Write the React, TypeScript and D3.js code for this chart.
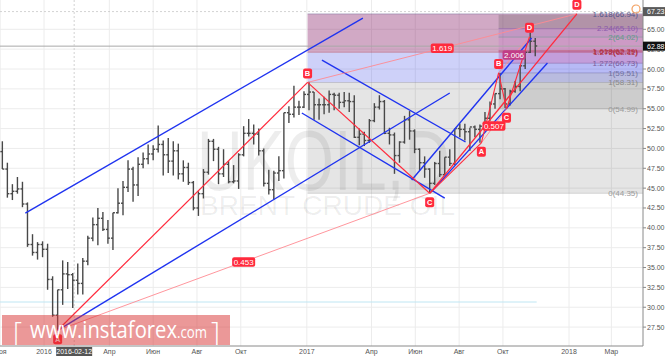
import React from "react";
import * as d3 from "d3";

// ---------- price data (weekly OHLC, Brent) ----------
const weeks = [
  "2015-11-02","2015-11-09","2015-11-16","2015-11-23","2015-11-30","2015-12-07","2015-12-14","2015-12-21","2015-12-28",
  "2016-01-04","2016-01-11","2016-01-18","2016-01-25","2016-02-01","2016-02-08","2016-02-15","2016-02-22","2016-02-29",
  "2016-03-07","2016-03-14","2016-03-21","2016-03-28","2016-04-04","2016-04-11","2016-04-18","2016-04-25","2016-05-02",
  "2016-05-09","2016-05-16","2016-05-23","2016-05-30","2016-06-06","2016-06-13","2016-06-20","2016-06-27","2016-07-04",
  "2016-07-11","2016-07-18","2016-07-25","2016-08-01","2016-08-08","2016-08-15","2016-08-22","2016-08-29","2016-09-05",
  "2016-09-12","2016-09-19","2016-09-26","2016-10-03","2016-10-10","2016-10-17","2016-10-24","2016-10-31","2016-11-07",
  "2016-11-14","2016-11-21","2016-11-28","2016-12-05","2016-12-12","2016-12-19","2016-12-26",
  "2017-01-02","2017-01-09","2017-01-16","2017-01-23","2017-01-30","2017-02-06","2017-02-13","2017-02-20","2017-02-27",
  "2017-03-06","2017-03-13","2017-03-20","2017-03-27","2017-04-03","2017-04-10","2017-04-17","2017-04-24","2017-05-01",
  "2017-05-08","2017-05-15","2017-05-22","2017-05-29","2017-06-05","2017-06-12","2017-06-19","2017-06-26","2017-07-03",
  "2017-07-10","2017-07-17","2017-07-24","2017-07-31","2017-08-07","2017-08-14","2017-08-21","2017-08-28","2017-09-04",
  "2017-09-11","2017-09-18","2017-09-25","2017-10-02","2017-10-09","2017-10-16","2017-10-23","2017-10-30","2017-11-06",
  "2017-11-13",
];
const opens = [
  49.6,47.4,44.3,44.6,44.9,43.0,37.9,36.9,37.9,
  37.3,33.5,29.0,32.2,34.2,34.1,33.4,33.0,35.8,
  38.7,40.4,41.2,39.8,38.7,41.9,43.1,45.1,47.4,
  45.4,48.0,48.7,49.3,49.9,50.5,49.2,48.4,49.7,
  46.8,47.6,45.7,42.5,44.3,47.0,50.9,49.9,46.8,
  48.0,45.8,45.9,49.2,51.9,51.9,51.8,49.7,45.6,
  44.8,46.9,47.2,54.5,54.3,55.2,55.2,
  56.8,57.1,55.5,55.5,55.5,56.8,56.7,55.8,56.0,
  55.9,51.4,51.8,51.0,53.5,55.2,55.9,51.9,51.7,
  49.1,50.8,53.6,52.2,49.9,48.2,47.4,45.6,48.1,
  46.7,48.9,48.1,52.5,52.4,52.1,52.7,52.4,52.8,
  53.8,55.6,56.9,57.5,55.6,57.2,57.8,60.4,62.1,
  63.5,
];
const highs = [
  50.9,48.2,45.5,46.4,45.8,43.2,39.2,38.2,38.3,
  38.0,33.9,32.2,35.9,35.7,34.3,35.5,36.2,39.0,
  41.3,42.5,42.0,41.0,41.9,45.0,45.9,48.5,47.7,
  48.9,49.5,50.5,50.4,52.9,51.0,51.3,50.9,50.6,
  48.5,48.2,45.9,44.6,47.4,51.2,51.2,50.2,49.9,
  48.4,47.9,49.4,52.8,53.7,53.0,52.5,50.0,47.3,
  47.2,49.0,54.5,55.3,57.9,56.0,57.2,
  58.4,57.1,56.3,56.5,57.3,57.0,57.0,57.1,57.0,
  56.7,52.5,52.1,53.7,55.7,56.7,56.1,52.6,52.0,
  50.9,54.1,54.7,52.4,50.0,49.0,47.5,48.3,49.7,
  48.9,49.9,52.5,53.1,53.1,52.6,52.9,53.0,54.6,
  55.9,56.9,59.5,57.6,57.4,58.5,60.5,62.2,64.6,
  63.9,
];
const lows = [
  47.4,43.8,43.5,44.3,42.6,37.6,36.5,36.0,36.3,
  32.2,28.8,27.1,30.3,32.3,29.9,31.6,31.6,35.3,
  38.3,37.8,39.6,38.0,37.2,41.8,41.6,44.5,43.3,
  44.0,47.5,48.0,48.5,49.5,46.6,46.9,46.6,46.1,
  45.8,45.4,42.2,41.5,43.7,46.7,48.4,45.5,46.4,
  45.6,45.6,44.9,49.0,51.5,50.5,49.1,45.2,44.2,
  43.6,45.9,46.2,53.2,53.9,54.2,55.1,
  54.8,53.6,53.6,54.3,54.5,54.8,55.0,55.2,54.6,
  51.3,50.4,50.3,50.7,53.3,54.9,51.8,50.5,46.8,
  48.2,50.6,51.1,49.4,47.2,46.3,44.4,45.4,46.4,
  46.6,47.8,47.9,51.4,51.0,49.7,51.4,50.7,52.6,
  53.5,55.0,56.2,55.1,55.4,57.0,57.2,60.0,62.0,
  61.6,
];
const closes = [
  47.4,44.3,44.6,44.9,43.0,37.9,36.9,37.9,37.3,
  33.5,29.0,32.2,34.2,34.1,33.4,33.0,35.8,38.7,
  40.4,41.2,39.8,38.7,41.9,43.1,45.1,47.4,45.4,
  48.0,48.7,49.3,49.9,50.5,49.2,48.4,49.7,46.8,
  47.6,45.7,42.5,44.3,47.0,50.9,49.9,46.8,48.0,
  45.8,45.9,49.2,51.9,51.9,51.8,49.7,45.6,44.8,
  46.9,47.2,54.5,54.3,55.2,55.2,56.8,
  57.1,55.5,55.5,55.5,56.8,56.7,55.8,56.0,55.9,
  51.4,51.8,51.0,53.5,55.2,55.9,51.9,51.7,49.1,
  50.8,53.6,52.2,49.9,48.2,47.4,45.6,48.1,46.7,
  48.9,48.1,52.5,52.4,52.1,52.7,52.4,52.8,53.8,
  55.6,56.9,57.5,55.6,57.2,57.8,60.4,62.1,63.5,
  62.9,
];

// ---------- axes ----------
const yTicks = [27.5, 30, 32.5, 35, 37.5, 40, 42.5, 45, 47.5, 50, 52.5, 55, 57.5, 60, 62.5, 65];
const xTickDates = ["2015-11-01","2016-01-01","2016-04-01","2016-06-01","2016-08-01","2016-10-01","2017-01-01","2017-04-01","2017-06-01","2017-08-01","2017-10-01","2018-01-01","2018-03-01"];
const xTickLabels = ["Ноя","2016","Апр","Июн","Авг","Окт","2017","Апр","Июн","Авг","Окт","2018","Мар"];
const crossDate = "2016-02-12";
const crossPrice = 67.23;
const lastPrice = 62.88;
const cyanLevel = 30.66;
const lastDate = "2017-11-17";

// ---------- patterns ----------
const bigNames = ["A", "B", "C", "D"];
const bigDates = ["2016-01-20", "2017-01-02", "2017-06-21", "2018-01-12"];
const bigPrices = [27.1, 58.31, 44.35, 66.95];
const smallNames = ["A", "B", "C", "D"];
const smallDates = ["2017-09-01", "2017-09-25", "2017-10-06", "2017-11-07"];
const smallPrices = [50.7, 59.51, 54.99, 64.06];

const bigFibLevels = ["0", "1", "1.272", "1.618"];
const bigFibValues = [44.35, 58.31, 62.11, 66.94];
const smallFibLevels = ["0", "1", "1.272", "1.618", "2", "2.24", "2.618"];
const smallFibValues = [54.99, 59.51, 60.73, 62.29, 64.02, 65.10, 66.82];

const blueLines: [string, number, string, number][] = [
  ["2015-12-06", 41.86, "2017-03-20", 66.42],
  ["2016-01-20", 27.1, "2017-07-19", 56.98],
  ["2017-01-22", 61.13, "2017-08-10", 50.81],
  ["2016-12-25", 54.46, "2017-07-12", 43.75],
  ["2017-05-27", 46.02, "2017-11-10", 63.9],
  ["2017-06-23", 44.5, "2017-12-02", 60.76],
];

const ratioBig = ["0.453", "1.619"];
const ratioSmall = ["0.507", "2.006"];

// ---------- helpers ----------
const pd = (s: string) => {
  const [Y, M, D] = s.split("-").map(Number);
  return new Date(Y, M - 1, D);
};
const addDays = (s: string, n: number) => {
  const d = pd(s);
  d.setDate(d.getDate() + n);
  return d;
};

const W = 665;
const H = 356;
const RIGHT = 643;
const BOTTOM = 346;

const x = d3.scaleTime().domain([pd("2016-01-01"), pd("2018-01-01")]).range([44, 569]);
const y = d3.scaleLinear().domain([27.5, 65]).range([327.1, 29.3]);

const RED = "#ff2a3c";
const PINK = "#ff8a92";
const BLUE = "#1f33f0";
const FONT = "'Liberation Sans', Arial, sans-serif";

function PointLabel({ cx, cy, text, below, fill = RED }: any) {
  const ly = below ? cy + 9 : cy - 9;
  return (
    <g>
      <rect x={cx - 4.5} y={ly - 5} width={9} height={10} rx={2} fill={fill} />
      <text x={cx} y={ly + 2.6} fontSize={7.5} fontFamily={FONT} fontWeight="bold" fill="#fff" textAnchor="middle">
        {text}
      </text>
    </g>
  );
}

function RatioLabel({ cx, cy, text, fill = RED }: any) {
  return (
    <g>
      <rect x={cx - 11.5} y={cy - 4.5} width={23} height={9.5} rx={2} fill={fill} />
      <text x={cx} y={cy + 2.8} fontSize={8} fontFamily={FONT} fill="#fff" textAnchor="middle">
        {text}
      </text>
    </g>
  );
}

export default function App() {
  const bigPts = bigDates.map((d, i) => [x(pd(d)), y(bigPrices[i])] as [number, number]);
  const smPts = smallDates.map((d, i) => [x(pd(d)), y(smallPrices[i])] as [number, number]);
  const bigStart = x(pd(bigDates[1]));
  const smStart = x(pd(smallDates[1]));

  const bigRectFills = ["rgba(0,0,0,0.10)", "rgba(60,70,230,0.25)", "rgba(140,40,110,0.40)"];
  const smallRectFills = [
    "rgba(0,0,0,0.10)",
    "rgba(60,70,230,0.16)",
    "rgba(170,40,150,0.30)",
    "rgba(190,90,200,0.18)",
    "rgba(140,80,190,0.20)",
    "rgba(70,70,70,0.22)",
  ];
  const bigLabelColors = ["#9a9a9a", "#8a8a8a", "#b03040", "#55558a"];
  const smallLabelColors = ["#9a9a9a", "#7070a0", "#7a5a9a", "#b0283a", "#5f9a8a", "#8a5aaa", null];

  const seg = (a: [number, number], b: [number, number], stroke: string, w: number, key: string) => (
    <line key={key} x1={a[0]} y1={a[1]} x2={b[0]} y2={b[1]} stroke={stroke} strokeWidth={w} />
  );

  return (
    <div style={{ position: "fixed", left: 0, top: 0 }}>
      <svg width={W} height={H} style={{ display: "block", background: "#fff" }}>
        <defs>
          <clipPath id="plot">
            <rect x={0} y={0} width={RIGHT} height={BOTTOM} />
          </clipPath>
        </defs>
        <rect x={0} y={0} width={W} height={H} fill="#fff" />

        <g clipPath="url(#plot)">
          {/* grid */}
          {yTicks.map((t) => (
            <line key={"gy" + t} x1={0} x2={RIGHT} y1={y(t)} y2={y(t)} stroke="#ececec" strokeWidth={1} />
          ))}
          {xTickDates.map((d) => (
            <line key={"gx" + d} x1={x(pd(d))} x2={x(pd(d))} y1={0} y2={BOTTOM} stroke="#ececec" strokeWidth={1} />
          ))}

          {/* big fib rects */}
          {bigFibValues.slice(0, -1).map((v, i) => (
            <rect
              key={"bf" + i}
              x={bigStart}
              width={RIGHT - bigStart}
              y={y(bigFibValues[i + 1])}
              height={y(v) - y(bigFibValues[i + 1])}
              fill={bigRectFills[i]}
            />
          ))}
          {/* small fib rects */}
          {smallFibValues.slice(0, -1).map((v, i) => (
            <rect
              key={"sf" + i}
              x={smStart}
              width={RIGHT - smStart}
              y={y(smallFibValues[i + 1])}
              height={y(v) - y(smallFibValues[i + 1])}
              fill={smallRectFills[i]}
            />
          ))}
          {smallFibValues.slice(0, -1).map((v, i) => (
            <line key={"sl" + i} x1={smStart} x2={RIGHT} y1={y(v)} y2={y(v)} stroke={smallLabelColors[i] || "#888"} strokeWidth={0.7} opacity={0.6} />
          ))}
          {bigFibValues.map((v, i) => (
            <line key={"bl" + i} x1={bigStart} x2={RIGHT} y1={y(v)} y2={y(v)} stroke={bigLabelColors[i]} strokeWidth={0.7} opacity={0.5} />
          ))}

          {/* watermark */}
          <text x={197} y={190} fontSize={86} fontFamily={FONT} fill="rgba(0,0,0,0.07)" textLength={253} lengthAdjust="spacingAndGlyphs">
            UKOIL,D
          </text>
          <text x={200} y={215} fontSize={28} fontFamily={FONT} fill="rgba(0,0,0,0.07)" textLength={255} lengthAdjust="spacingAndGlyphs">
            BRENT CRUDE OIL
          </text>

          {/* reference lines */}
          <line x1={0} x2={RIGHT} y1={y(lastPrice)} y2={y(lastPrice)} stroke="#a8a8a8" strokeWidth={1} />
          <line x1={0} x2={RIGHT} y1={y(crossPrice)} y2={y(crossPrice)} stroke="#c8c8c8" strokeWidth={0.8} strokeDasharray="2,2" />
          <line x1={x(pd(crossDate))} x2={x(pd(crossDate))} y1={0} y2={BOTTOM} stroke="#c8c8c8" strokeWidth={0.8} strokeDasharray="2,2" />
          <line x1={0} x2={x(pd(lastDate))} y1={y(cyanLevel)} y2={y(cyanLevel)} stroke="#bfe6f3" strokeWidth={1} />

          {/* OHLC bars */}
          {weeks.map((w, i) => {
            const cx = x(addDays(w, 2));
            return (
              <g key={"c" + i} stroke="#484848" strokeWidth={1.4}>
                <line x1={cx} x2={cx} y1={y(highs[i])} y2={y(lows[i])} />
                <line x1={cx - 2} x2={cx} y1={y(opens[i])} y2={y(opens[i])} />
                <line x1={cx} x2={cx + 2} y1={y(closes[i])} y2={y(closes[i])} />
              </g>
            );
          })}

          {/* blue channels */}
          {blueLines.map((l, i) => (
            <line key={"bl" + i} x1={x(pd(l[0]))} y1={y(l[1])} x2={x(pd(l[2]))} y2={y(l[3])} stroke={BLUE} strokeWidth={1.4} />
          ))}

          {/* big pattern */}
          {seg(bigPts[0], bigPts[2], PINK, 0.9, "bp1")}
          {seg(bigPts[1], bigPts[3], PINK, 0.9, "bp2")}
          {seg(bigPts[0], bigPts[1], RED, 1.2, "br1")}
          {seg(bigPts[1], bigPts[2], RED, 1.2, "br2")}
          {seg(bigPts[2], bigPts[3], RED, 1.3, "br3")}
          {seg(bigPts[2], smPts[0], RED, 1.1, "br4")}

          {/* small pattern */}
          {seg(smPts[0], smPts[2], PINK, 0.9, "sp1")}
          {seg(smPts[1], smPts[3], PINK, 0.9, "sp2")}
          {seg(smPts[0], smPts[1], RED, 1.1, "sr1")}
          {seg(smPts[1], smPts[2], RED, 1.1, "sr2")}
          {seg(smPts[2], smPts[3], RED, 1.1, "sr3")}

          {/* ratio labels */}
          <RatioLabel cx={(bigPts[0][0] + bigPts[2][0]) / 2} cy={(bigPts[0][1] + bigPts[2][1]) / 2} text={ratioBig[0]} />
          <RatioLabel cx={(bigPts[1][0] + bigPts[3][0]) / 2} cy={(bigPts[1][1] + bigPts[3][1]) / 2} text={ratioBig[1]} />
          <RatioLabel cx={(smPts[0][0] + smPts[2][0]) / 2} cy={(smPts[0][1] + smPts[2][1]) / 2} text={ratioSmall[0]} />
          <RatioLabel cx={(smPts[1][0] + smPts[3][0]) / 2} cy={(smPts[1][1] + smPts[3][1]) / 2} text={ratioSmall[1]} fill="#c23c86" />

          {/* point labels */}
          {bigPts.map((p, i) => (
            <PointLabel key={"pl" + i} cx={p[0]} cy={p[1]} text={bigNames[i]} below={i === 0 || i === 2} />
          ))}
          {smPts.map((p, i) => (
            <PointLabel key={"sl2" + i} cx={p[0]} cy={p[1]} text={smallNames[i]} below={i === 0 || i === 2} />
          ))}

          {/* fib texts */}
          {bigFibValues.map((v, i) => (
            <text key={"bt" + i} x={638} y={y(v) + 2.8} fontSize={8} fontFamily={FONT} textAnchor="end" fill={bigLabelColors[i]}>
              {bigFibLevels[i]}({v.toFixed(2)})
            </text>
          ))}
          {smallFibValues.map((v, i) =>
            smallLabelColors[i] ? (
              <text key={"st" + i} x={638} y={y(v) + 2.8} fontSize={8} fontFamily={FONT} textAnchor="end" fill={smallLabelColors[i] as string}>
                {smallFibLevels[i]}({v.toFixed(2)})
              </text>
            ) : null
          )}

          {/* watermark banner */}
          <rect x={2} y={315} width={228} height={30} fill="rgba(215,50,50,0.5)" />
          <text x={13} y={342} fontSize={28} fontFamily="'Open Sans', sans-serif" fill="#fff" fontWeight={300}>[</text>
          <text x={30} y={338} fontSize={23} fontFamily="'Open Sans', sans-serif" fill="#fff" textLength={147} lengthAdjust="spacingAndGlyphs">
            www.instaforex
          </text>
          <text x={177} y={338} fontSize={16} fontFamily="'Open Sans', sans-serif" fill="#fff" textLength={30} lengthAdjust="spacingAndGlyphs">
            .com
          </text>
          <text x={211} y={342} fontSize={28} fontFamily="'Open Sans', sans-serif" fill="#fff" fontWeight={300}>]</text>

          {/* orange marker */}
          <circle cx={636} cy={9} r={4} fill="rgba(255,255,255,0.4)" stroke="#f3a060" strokeWidth={1.2} />
        </g>

        {/* axes */}
        <line x1={RIGHT} x2={RIGHT} y1={0} y2={BOTTOM} stroke="#8a8a8a" strokeWidth={1} />
        <line x1={0} x2={RIGHT} y1={BOTTOM} y2={BOTTOM} stroke="#8a8a8a" strokeWidth={1} />
        {yTicks.map((t) => (
          <g key={"yt" + t}>
            <line x1={RIGHT} x2={RIGHT + 3} y1={y(t)} y2={y(t)} stroke="#8a8a8a" />
            <text x={RIGHT + 4} y={y(t) + 2.5} fontSize={7} fontFamily={FONT} fill="#555">
              {t.toFixed(2)}
            </text>
          </g>
        ))}
        <rect x={RIGHT} y={y(crossPrice) - 4.5} width={22} height={9} fill="#5a5a5a" />
        <text x={RIGHT + 4} y={y(crossPrice) + 2.5} fontSize={7} fontFamily={FONT} fill="#fff">
          {crossPrice.toFixed(2)}
        </text>
        <rect x={RIGHT} y={y(lastPrice) - 4.5} width={22} height={9} fill="#111" />
        <text x={RIGHT + 4} y={y(lastPrice) + 2.5} fontSize={7} fontFamily={FONT} fill="#fff">
          {lastPrice.toFixed(2)}
        </text>

        {xTickDates.map((d, i) => (
          <text key={"xt" + i} x={x(pd(d))} y={354} fontSize={7} fontFamily={FONT} fill="#555" textAnchor="middle">
            {xTickLabels[i]}
          </text>
        ))}
        <rect x={x(pd(crossDate)) - 18} y={347} width={36} height={9} fill="#555" />
        <text x={x(pd(crossDate))} y={354} fontSize={7} fontFamily={FONT} fill="#fff" textAnchor="middle">
          {crossDate}
        </text>
      </svg>
    </div>
  );
}
